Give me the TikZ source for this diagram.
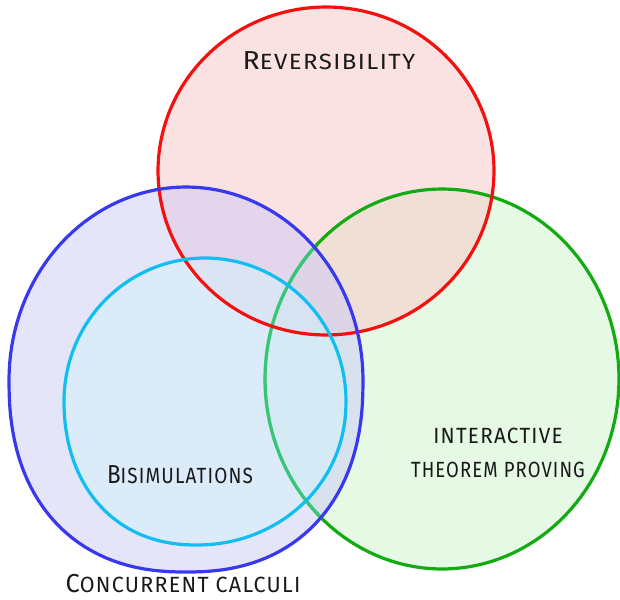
\documentclass[tikz,border=0pt]{standalone}
\usepackage{fontspec}
\setmainfont{Fira Sans}[LetterSpace=6]
\definecolor{redline}{HTML}{F51010}
\definecolor{redfill}{HTML}{F9C7C7}
\definecolor{greenline}{HTML}{12AC12}
\definecolor{greeninner}{HTML}{38C676}
\definecolor{greenfill}{HTML}{CCF5CC}
\definecolor{blueline}{HTML}{3838EE}
\definecolor{bluefill}{HTML}{CCCCF7}
\definecolor{cyanline}{HTML}{10BEF2}
\definecolor{cyanfill}{HTML}{D2F2FB}
% #1 options, #2 cx, #3 cy, #4 rx, #5 ry (upper), #6 ry (lower),
% #7 lower-half exponent, #8 lower-half horizontal skew
\newcommand\blobshape[8]{%
  \path[#1] plot[domain=0:180,samples=73,variable=\t]
      ({#2+#4*cos(\t)},{#3-#5*sin(\t)})
    -- plot[domain=180.3:359.7,samples=72,variable=\t]
      ({#2+#8*sin(\t)*sin(\t)+#4*sign(cos(\t))*pow(abs(cos(\t)),#7)},{#3+#6*pow(abs(sin(\t)),#7)})
    -- cycle;}
\newcommand\firstletter[1]{{\fontsize{26}{26}\selectfont #1}}
\newcommand\hs[2]{\scalebox{#1}[1]{#2}}
\tikzset{
  ring/.style={line width=3.2pt},
  label/.style={font=\fontsize{22}{34}\selectfont, inner sep=0pt, text=black!90},
}
\begin{document}
\begin{tikzpicture}[x=1pt,y=-1pt]
\fill[white] (0,0) rectangle (620,599);
\useasboundingbox (0,0) rectangle (620,599);
% fills (green, red) and green outline
\blobshape{fill=greenfill,fill opacity=0.5}{442}{379}{177}{190}{190}{1}{0}
\blobshape{fill=redfill,fill opacity=0.5}{326}{171}{168}{164}{164}{1}{0}
\blobshape{draw=greenline,ring}{442}{379}{177}{190}{190}{1}{0}
% blue and cyan fills
\blobshape{fill=bluefill,fill opacity=0.5}{186}{380}{177}{193}{192}{0.87}{0}
\blobshape{fill=cyanfill,fill opacity=0.5}{205}{401}{141}{143}{144}{0.95}{-9}
% green outline where it crosses the blue region
\begin{scope}
  \blobshape{clip}{186}{380}{177}{193}{192}{0.87}{0}
  \blobshape{draw=greeninner,ring}{442}{379}{177}{190}{190}{1}{0}
\end{scope}
% outlines
\blobshape{draw=redline,ring}{326}{171}{168}{164}{164}{1}{0}
\blobshape{draw=blueline,ring}{186}{380}{177}{193}{192}{0.87}{0}
\blobshape{draw=cyanline,ring}{205}{401}{141}{143}{144}{0.95}{-9}
% labels
\node[label,anchor=base] (rev) at (329,70) {\hs{1.09}{\firstletter{R}EVERSIBILITY}};
\node[label,align=center] (itp) at (498,453) {\hs{0.94}{INTERACTIVE}\\\hs{0.84}{THEOREM PROVING}};
\node[label,anchor=base] (bis) at (180,483) {\hs{0.86}{\firstletter{B}ISIMULATIONS}};
\node[label,anchor=base] (cc) at (183,592) {\hs{0.975}{\firstletter{C}ONCURRENT CALCULI}};
\end{tikzpicture}
\end{document}
